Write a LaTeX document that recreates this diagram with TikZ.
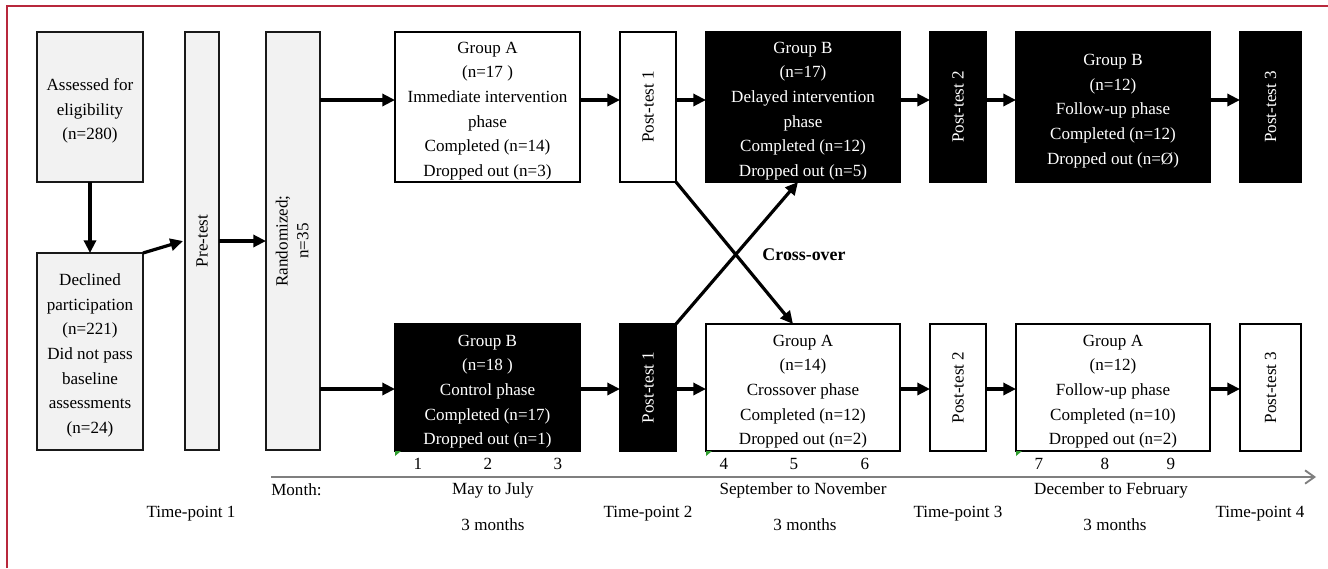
\documentclass[tikz,border=0pt]{standalone}
\usepackage{fontspec}
\setmainfont{Liberation Serif}
\usetikzlibrary{arrows.meta,calc}
\definecolor{boxgray}{HTML}{F2F2F2}
\definecolor{framered}{HTML}{B8283C}
\definecolor{axisgray}{HTML}{7F7F7F}
\definecolor{markgreen}{HTML}{2E9E2E}
\tikzset{
  sz/.style 2 args={minimum width=#1*0.75pt, minimum height=#2*0.75pt},
  base/.style={draw=black, line width=1.5pt, inner sep=0pt, outer sep=0pt,
    align=center, font=\fontsize{12.8}{18.5}\selectfont},
  graybox/.style={base, fill=boxgray, draw=black!90},
  whitebox/.style={base, fill=white},
  blackbox/.style={base, fill=black, text=white},
  txtk/.style={inner sep=0pt, align=center, font=\fontsize{12.8}{18.5}\selectfont, yshift=-3pt, text=black},
  txtw/.style={txtk, text=white},
  arr/.style={line width=2.4pt, -{Triangle[length=9.5pt,width=9pt]}},
  lbl/.style={inner sep=0pt, font=\fontsize{12.8}{15}\selectfont},
  greenmark/.style={fill=markgreen, draw=none}
}
\newcommand{\vt}[1]{\rotatebox{90}{#1}}
\begin{document}
\begin{tikzpicture}[x=0.75pt,y=-0.75pt]
\useasboundingbox (0,0) rectangle (1328,568);
\fill[white] (0,0) rectangle (1328,568);
\draw[framered, line width=1.2pt] (7,568) -- (7,6) -- (1328,6);

\coordinate (rowA) at (0,100);
\coordinate (rowB) at (0,389);

% left column
\node[graybox, sz={106}{150}, label={[txtk]center:{Assessed for\\eligibility\\(n=280)}}] (assess) at (90,107) {};
\node[graybox, sz={106}{197}, label={[txtk]center:{Declined\\participation\\(n=221)\\Did not pass\\baseline\\assessments\\(n=24)}}] (declined) at (90,351.5) {};
\node[graybox, sz={34}{418}] (pretest) at (202,241) {\vt{Pre-test}};
\node[graybox, sz={54}{418}] (rand) at (293,241) {\vt{\begin{tabular}{@{}c@{}}Randomized;\\[-3pt] n=35\end{tabular}}};

% top row
\node[whitebox, sz={185}{150}, label={[txtk]center:{Group A\\(n=17 )\\Immediate intervention\\phase\\Completed (n=14)\\Dropped out (n=3)}}] (gA1) at (487.5,107) {};
\node[whitebox, sz={56}{150}] (pt1a) at (648,107) {\vt{Post-test 1}};
\node[blackbox, sz={194}{150}, label={[txtw]center:{Group B\\(n=17)\\Delayed intervention\\phase\\Completed (n=12)\\Dropped out (n=5)}}] (gB1) at (803,107) {};
\node[blackbox, sz={56}{150}] (pt2a) at (958,107) {\vt{Post-test 2}};
\node[blackbox, sz={194}{150}, label={[txtw]center:{Group B\\(n=12)\\Follow-up phase\\Completed (n=12)\\Dropped out (n=Ø)}}] (gB2) at (1113,107) {};
\node[blackbox, sz={61}{150}] (pt3a) at (1270.5,107) {\vt{Post-test 3}};

% bottom row
\node[blackbox, sz={185}{127}, label={[txtw]center:{Group B\\(n=18 )\\Control phase\\Completed (n=17)\\Dropped out (n=1)}}] (gB0) at (487.5,387.5) {};
\node[blackbox, sz={56}{127}] (pt1b) at (648,387.5) {\vt{Post-test 1}};
\node[whitebox, sz={194}{127}, label={[txtk]center:{Group A\\(n=14)\\Crossover phase\\Completed (n=12)\\Dropped out (n=2)}}] (gA2) at (803,387.5) {};
\node[whitebox, sz={56}{127}] (pt2b) at (958,387.5) {\vt{Post-test 2}};
\node[whitebox, sz={194}{127}, label={[txtk]center:{Group A\\(n=12)\\Follow-up phase\\Completed (n=10)\\Dropped out (n=2)}}] (gA3) at (1113,387.5) {};
\node[whitebox, sz={61}{127}] (pt3b) at (1270.5,387.5) {\vt{Post-test 3}};

% arrows
\draw[arr] (assess.south) -- (declined.north);
\draw[arr] (declined.north east) -- ($(pretest.west)+(-2,0)$);
\draw[arr] (pretest.east) -- (rand.west);
\draw[arr] (rand.east |- rowA) -- (gA1.west |- rowA);
\draw[arr] (rand.east |- rowB) -- (gB0.west |- rowB);
\draw[arr] (gA1.east |- rowA) -- (pt1a.west |- rowA);
\draw[arr] (pt1a.east |- rowA) -- (gB1.west |- rowA);
\draw[arr] (gB1.east |- rowA) -- (pt2a.west |- rowA);
\draw[arr] (pt2a.east |- rowA) -- (gB2.west |- rowA);
\draw[arr] (gB2.east |- rowA) -- (pt3a.west |- rowA);
\draw[arr] (gB0.east |- rowB) -- (pt1b.west |- rowB);
\draw[arr] (pt1b.east |- rowB) -- (gA2.west |- rowB);
\draw[arr] (gA2.east |- rowB) -- (pt2b.west |- rowB);
\draw[arr] (pt2b.east |- rowB) -- (gA3.west |- rowB);
\draw[arr] (gA3.east |- rowB) -- (pt3b.west |- rowB);
\draw[arr] (pt1a.south east) -- ($(gA2.north)+(-10,0)$);
\draw[arr] (pt1b.north east) -- ($(gB1.south)+(-5,0)$);
\node[lbl, font=\fontsize{13.4}{15}\selectfont\bfseries] (cross) at (804,255) {Cross-over};

% green marks
\fill[greenmark] (gB0.south west) -- ++(6,0) -- ++(-6,5) -- cycle;
\fill[greenmark] (gA2.south west) -- ++(6,0) -- ++(-6,5) -- cycle;
\fill[greenmark] (gA3.south west) -- ++(6,0) -- ++(-6,5) -- cycle;

% time axis
\coordinate (ax0) at (271,477);
\coordinate (ax1) at (1316,477);
\draw[axisgray, line width=1.4pt, -{Straight Barb[length=7pt,width=10pt]}] (ax0) -- (ax1);

\node[lbl] (m1) at (418,464) {1};
\node[lbl] (m2) at (488,464) {2};
\node[lbl] (m3) at (558,464) {3};
\node[lbl] (m4) at (724,464) {4};
\node[lbl] (m5) at (794,464) {5};
\node[lbl] (m6) at (865,464) {6};
\node[lbl] (m7) at (1039,464) {7};
\node[lbl] (m8) at (1105,464) {8};
\node[lbl] (m9) at (1171,464) {9};

\node[lbl, anchor=west] (month) at (271,490) {Month:};
\node[lbl] (per1) at (493,490) {May to July};
\node[lbl] (per2) at (803,490) {September to November};
\node[lbl] (per3) at (1111,490) {December to February};
\node[lbl] (dur1) at (493,525) {3 months};
\node[lbl] (dur2) at (805,525) {3 months};
\node[lbl] (dur3) at (1115,525) {3 months};
\node[lbl] (tp1) at (191,514) {Time-point 1};
\node[lbl] (tp2) at (648,514) {Time-point 2};
\node[lbl] (tp3) at (958,514) {Time-point 3};
\node[lbl] (tp4) at (1260,514) {Time-point 4};
\end{tikzpicture}
\end{document}
